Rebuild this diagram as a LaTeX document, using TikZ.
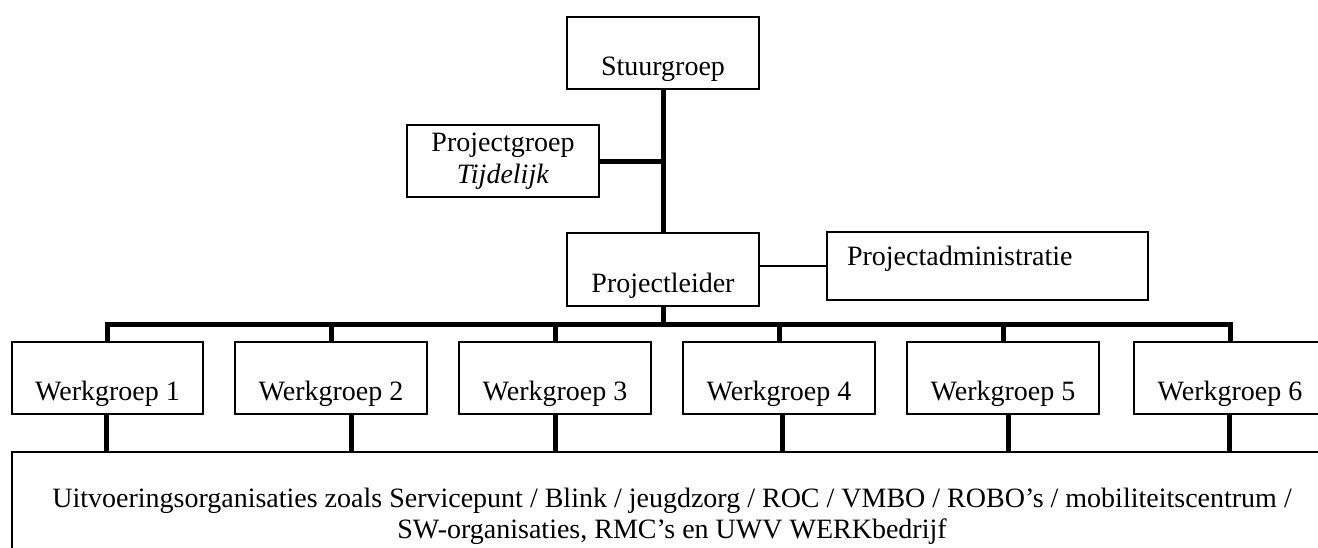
\documentclass[tikz,border=0pt]{standalone}
\usepackage{fontspec}
\setmainfont{Liberation Serif}
\begin{document}
\begin{tikzpicture}[x=1pt,y=-1pt,
  every node/.style={font=\fontsize{28}{31}\selectfont, inner sep=0pt, outer sep=0pt},
  box/.style={draw, line width=1.8pt, minimum height=72pt, minimum width=192pt},
  lowtext/.style={text height=45.5pt, text depth=0pt},
  conn/.style={line width=5pt},
  thinconn/.style={line width=1.6pt}]
\path[use as bounding box, fill=white] (0,0) rectangle (1318,547);
\clip (0,0) rectangle (1318,547);

\node[box, lowtext] (st) at (663,53) {Stuurgroep};
\node[box, align=center, font=\fontsize{28}{32}\selectfont] (pg) at (503,161) {Projectgroep\\\textit{Tijdelijk}};
\node[box, lowtext, minimum height=73pt] (pl) at (663,269.5) {Projectleider};
\node[box, minimum width=321pt, minimum height=68pt, text width=281pt, align=left, inner xsep=20pt, text height=2pt, text depth=3pt] (pa) at (987.5,266) {Projectadministratie};

\node[box, lowtext, minimum width=191pt] (w1) at (107.5,378) {Werkgroep 1};
\node[box, lowtext] (w2) at (331,378) {Werkgroep 2};
\node[box, lowtext] (w3) at (555,378) {Werkgroep 3};
\node[box, lowtext] (w4) at (779,378) {Werkgroep 4};
\node[box, lowtext] (w5) at (1003,378) {Werkgroep 5};
\node[box, lowtext] (w6) at (1230,378) {Werkgroep 6};

\node[box, anchor=north west, minimum width=1320pt, minimum height=128pt, align=center] (org) at (12,452)
  {Uitvoeringsorganisaties zoals Servicepunt / Blink / jeugdzorg / ROC / VMBO / ROBO’s / mobiliteitscentrum /\\SW-organisaties, RMC’s en UWV WERKbedrijf};

\draw[conn] (st) -- (pl);
\draw[conn] (pg.east) -- (pg.east -| st.south);
\draw[thinconn] (pl.east |- pa.west) -- (pa.west);
\coordinate (bus) at (663,324);
\draw[conn] (pl.south) -- (bus);
\draw[conn, line join=miter] (w1.north) -- (w1.north |- bus) -- (w6.north |- bus) -- (w6.north);
\foreach \n in {w2,w3,w4,w5} \draw[conn] (\n.north) -- (\n.north |- bus);
\draw[conn] ([xshift=-1.5pt]w1.south) -- ([xshift=-1.5pt]w1.south |- org.north);
\draw[conn] ([xshift=20pt]w2.south) -- ([xshift=20pt]w2.south |- org.north);
\draw[conn] (w3.south) -- (w3.south |- org.north);
\draw[conn] ([xshift=3pt]w4.south) -- ([xshift=3pt]w4.south |- org.north);
\draw[conn] ([xshift=5pt]w5.south) -- ([xshift=5pt]w5.south |- org.north);
\draw[conn] ([xshift=-1pt]w6.south) -- ([xshift=-1pt]w6.south |- org.north);
\end{tikzpicture}
\end{document}
